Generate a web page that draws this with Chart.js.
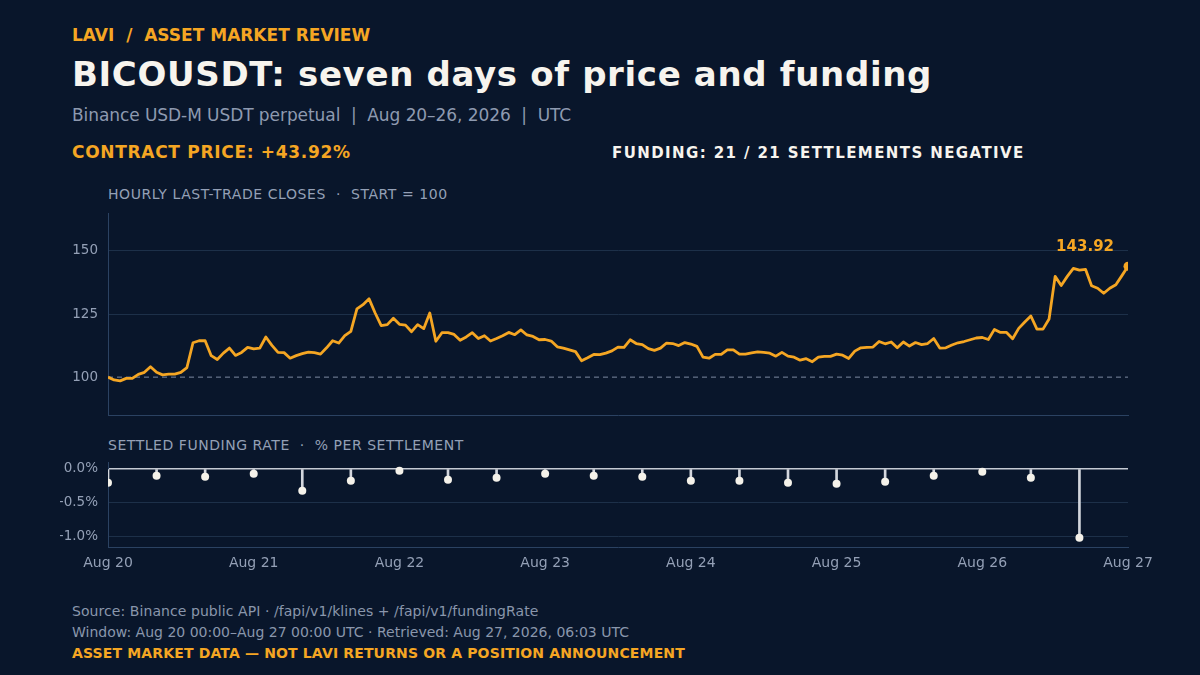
<!DOCTYPE html>
<html><head><meta charset="utf-8">
<script src="https://cdn.jsdelivr.net/npm/chart.js@4.4.1/dist/chart.umd.min.js"></script>
<style>
html,body{margin:0;padding:0;background:#09162b;}
body{width:1200px;height:675px;position:relative;overflow:hidden;font-family:"DejaVu Sans",sans-serif;}
.t{position:absolute;white-space:pre;line-height:1;}
#kicker{left:72px;top:27px;font-size:17px;font-weight:bold;color:#f5a623;}
#title{left:72px;top:57px;font-size:34px;font-weight:bold;color:#f7f4ee;letter-spacing:0.65px;}
#sub{left:72px;top:107px;font-size:17px;color:#8e9ab0;letter-spacing:-0.07px;}
#kpi1{left:72px;top:144px;font-size:17px;font-weight:bold;color:#f5a623;letter-spacing:0.7px;}
#kpi2{left:612px;top:145.5px;font-size:15px;font-weight:bold;color:#f7f4ee;letter-spacing:1.4px;}
#lab1{left:108px;top:186.5px;font-size:14px;color:#94a0b6;letter-spacing:0.57px;}
#lab2{left:108px;top:438px;font-size:14px;color:#94a0b6;letter-spacing:0.54px;}
#f1{left:72px;top:604px;font-size:14px;color:#8a96ac;letter-spacing:0.07px;}
#f2{left:72px;top:625px;font-size:14px;color:#8a96ac;}
#f3{left:72px;top:646px;font-size:14px;font-weight:bold;color:#f5a623;letter-spacing:0.15px;}
#c1wrap{position:absolute;left:60px;top:193px;width:1120px;height:242px;}
#c2wrap{position:absolute;left:60px;top:442px;width:1120px;height:138px;}
</style></head>
<body>
<div class="t" id="kicker">LAVI  /  ASSET MARKET REVIEW</div>
<div class="t" id="title">BICOUSDT: seven days of price and funding</div>
<div class="t" id="sub">Binance USD-M USDT perpetual  |  Aug 20–26, 2026  |  UTC</div>
<div class="t" id="kpi1">CONTRACT PRICE: +43.92%</div>
<div class="t" id="kpi2">FUNDING: 21 / 21 SETTLEMENTS NEGATIVE</div>
<div class="t" id="lab1">HOURLY LAST-TRADE CLOSES  ·  START = 100</div>
<div class="t" id="lab2">SETTLED FUNDING RATE  ·  % PER SETTLEMENT</div>
<div class="t" id="f1">Source: Binance public API · /fapi/v1/klines + /fapi/v1/fundingRate</div>
<div class="t" id="f2">Window: Aug 20 00:00–Aug 27 00:00 UTC · Retrieved: Aug 27, 2026, 06:03 UTC</div>
<div class="t" id="f3">ASSET MARKET DATA — NOT LAVI RETURNS OR A POSITION ANNOUNCEMENT</div>
<div id="c1wrap"><canvas id="c1"></canvas></div>
<div id="c2wrap"><canvas id="c2"></canvas></div>
<script>
// Hourly closes, indexed to start = 100 (hour 0 .. 168)
const priceCloses = [
100,98.9,98.5,99.5,99.5,101.1,101.9,104.1,101.9,100.9,101.2,101.2,101.9,103.8,113.6,114.4,114.4,108.5,107,109.5,
111.5,108.6,109.8,111.8,111.2,111.5,115.9,112.6,109.8,109.7,107.5,108.5,109.3,109.9,109.7,109.1,111.6,114.4,113.5,116.4,
118.1,127,128.7,131,125.4,120.4,120.8,123.3,120.9,120.6,118,120.8,119.2,125.4,114.2,117.6,117.6,116.9,114.6,115.9,
117.6,115.3,116.4,114.3,115.3,116.4,117.7,116.8,118.7,116.7,116.1,114.8,114.9,114.3,112,111.5,110.8,110.1,106.5,107.7,
109,108.9,109.5,110.4,111.9,111.8,114.8,113.3,112.9,111.3,110.6,111.5,113.5,113.3,112.5,113.7,113.1,112.2,107.9,107.5,
109,109,110.8,110.8,109.1,109.1,109.6,110,109.8,109.5,108.3,109.8,108.3,107.9,106.7,107.3,106.1,107.9,108.2,108.2,
109.1,108.7,107.4,110.3,111.6,111.8,111.9,114.1,113.2,113.9,111.6,113.9,112.3,113.7,112.9,113.3,115.3,111.5,111.6,112.7,
113.6,114.1,114.8,115.5,115.7,114.9,118.9,117.7,117.7,115.2,119.3,121.8,124.2,119,119,123,139.9,136.3,139.9,143.1,
142.4,142.7,136.2,135.2,133.2,135.2,136.6,140.2,143.92
];
// Funding settlements every 8 hours (hour offset) and rate in %
const fundingHours = [0,8,16,24,32,40,48,56,64,72,80,88,96,104,112,120,128,136,144,152,160];
const fundingRates = [-0.206,-0.103,-0.118,-0.074,-0.324,-0.176,-0.029,-0.162,-0.132,-0.074,-0.103,-0.118,-0.176,-0.176,-0.206,-0.22,-0.19,-0.103,-0.044,-0.132,-1.015];
const dayLabels = ["Aug 20","Aug 21","Aug 22","Aug 23","Aug 24","Aug 25","Aug 26","Aug 27"];
const priceTicks = [100,125,150];
const fundingTicks = [0,-0.5,-1.0];

const ORANGE = '#f5a623';
const GRID = '#1d3049';
const BORDER = '#2b4262';
const TICK = '#94a0b6';
Chart.defaults.font.family = '"DejaVu Sans", sans-serif';
Chart.defaults.animation = false;

const refLine = {
  id:'refLine',
  beforeDatasetsDraw(chart){
    const {ctx, chartArea:a, scales:{y}} = chart;
    const py = y.getPixelForValue(100);
    ctx.save(); ctx.strokeStyle='#7d8aa0'; ctx.lineWidth=1; ctx.setLineDash([5,4]);
    ctx.beginPath(); ctx.moveTo(a.left,py); ctx.lineTo(a.right,py); ctx.stroke(); ctx.restore();
  },
  afterDatasetsDraw(chart){
    const meta = chart.getDatasetMeta(0);
    const pt = meta.data[meta.data.length-1];
    const v = priceCloses[priceCloses.length-1];
    const ctx = chart.ctx;
    ctx.save(); ctx.fillStyle=ORANGE; ctx.font='bold 15px "DejaVu Sans"';
    ctx.textAlign='right'; ctx.textBaseline='bottom';
    ctx.fillText(v.toFixed(2), pt.x-14, pt.y-12); ctx.restore();
  }
};

new Chart(document.getElementById('c1'), {
  type:'line',
  data:{datasets:[{
    data: priceCloses.map((v,i)=>({x:i,y:v})),
    borderColor:ORANGE, borderWidth:2.8, tension:0, borderJoinStyle:'round',
    pointRadius: ctx => ctx.dataIndex === priceCloses.length-1 ? 4.5 : 0,
    pointBackgroundColor:ORANGE, pointBorderWidth:0, pointHoverRadius:0
  }]},
  options:{
    responsive:true, maintainAspectRatio:false,
    layout:{padding:{top:20,right:52,bottom:20,left:0}},
    plugins:{legend:{display:false},tooltip:{enabled:false}},
    events:[],
    scales:{
      x:{type:'linear',min:0,max:168,
        ticks:{display:false}, grid:{display:false,drawTicks:false},
        border:{display:true,color:BORDER,width:1},
        afterFit(s){s.height=0;}},
      y:{min:85,max:165,
        afterBuildTicks(s){s.ticks = priceTicks.map(v=>({value:v}));},
        afterFit(s){s.width=48;},
        ticks:{color:TICK,font:{size:13.5},padding:10},
        grid:{color:c=> (c.tick && c.tick.value===100) ? 'rgba(0,0,0,0)' : GRID, drawTicks:false},
        border:{display:true,color:BORDER,width:1}}
    }
  },
  plugins:[refLine]
});

new Chart(document.getElementById('c2'), {
  type:'bar',
  data:{datasets:[
    {type:'bar', data: fundingHours.map((h,i)=>({x:h,y:fundingRates[i]})),
     backgroundColor:'#d3d6dd', barThickness:2, grouped:false, order:2},
    {type:'line', data: fundingHours.map((h,i)=>({x:h,y:fundingRates[i]})),
     showLine:false, pointRadius:4, pointBackgroundColor:'#f5f2ea', pointBorderWidth:0, pointHoverRadius:0, order:1}
  ]},
  options:{
    responsive:true, maintainAspectRatio:false,
    layout:{padding:{top:20,right:52,bottom:0,left:0}},
    plugins:{legend:{display:false},tooltip:{enabled:false}},
    events:[],
    scales:{
      x:{type:'linear',min:0,max:168,offset:false,
        afterBuildTicks(s){s.ticks = dayLabels.map((_,i)=>({value:i*24}));},
        ticks:{color:TICK,font:{size:14},padding:8,maxRotation:0,autoSkip:false,
          callback:v=>dayLabels[Math.round(v/24)]},
        grid:{display:false,drawTicks:false},
        border:{display:true,color:BORDER,width:1},
        afterFit(s){s.height=33;}},
      y:{min:-1.15,max:0.1,
        afterBuildTicks(s){s.ticks = fundingTicks.map(v=>({value:v}));},
        afterFit(s){s.width=48;},
        ticks:{color:TICK,font:{size:13.5},padding:10,callback:v=>v.toFixed(1)+'%'},
        grid:{color:c=> (c.tick && c.tick.value===0) ? '#c5cad3' : GRID,
              lineWidth:c=> (c.tick && c.tick.value===0) ? 1.5 : 1, drawTicks:false},
        border:{display:true,color:BORDER,width:1}}
    }
  }
});
</script>
</body></html>
